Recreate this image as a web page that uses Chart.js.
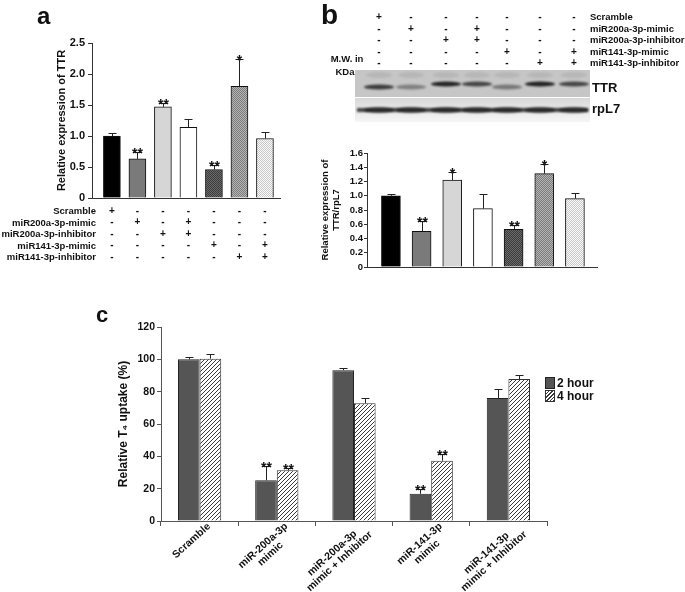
<!DOCTYPE html>
<html>
<head>
<meta charset="utf-8">
<script src="https://cdn.jsdelivr.net/npm/chart.js@4.4.1/dist/chart.umd.min.js"></script>
<style>
  body { margin: 0; width: 685px; height: 592px; position: relative; overflow: hidden; background: #fff;
         font-family: "Liberation Sans", Arial, sans-serif; font-weight: bold; color: #111; }
  canvas { position: absolute; }
  .abs { position: absolute; white-space: nowrap; }
</style>
</head>
<body>
<canvas id="chartA" width="300" height="275" style="left:0px;top:0px"></canvas>
<canvas id="blot" width="235" height="52" style="left:355px;top:70px"></canvas>
<canvas id="chartB" width="300" height="140" style="left:310px;top:135px"></canvas>
<canvas id="chartC" width="500" height="292" style="left:60px;top:300px"></canvas>
<div id="texts"></div>
<script>
// treatments (rows of the +/- tables), one entry per bar
var treatments = ['Scramble', 'miR200a-3p-mimic', 'miR200a-3p-inhibitor', 'miR141-3p-mimic', 'miR141-3p-inhibitor']
var scramble = ['+', '-', '-', '-', '-', '-', '-']
var mimic200 = ['-', '+', '-', '+', '-', '-', '-']
var inhib200 = ['-', '-', '+', '+', '-', '-', '-']
var mimic141 = ['-', '-', '-', '-', '+', '-', '+']
var inhib141 = ['-', '-', '-', '-', '-', '+', '+']

// panel a : qPCR, relative expression of TTR
var ttrA = [1.00, 0.63, 1.47, 1.14, 0.46, 1.80, 0.96]
var errA = [0.05, 0.11, 0.07, 0.14, 0.08, 0.44, 0.11]
var sigA = ['', '**', '**', '', '**', '*', '']
var ticksA = [0, 0.5, 1.0, 1.5, 2.0, 2.5]

// panel b : western blot, TTR/rpL7
var ttrB = [1.00, 0.50, 1.22, 0.82, 0.53, 1.31, 0.96]
var errB = [0.03, 0.14, 0.12, 0.20, 0.06, 0.13, 0.075]
var sigB = ['', '**', '*', '', '**', '*', '']
var ticksB = [0, 0.2, 0.4, 0.6, 0.8, 1.0, 1.2, 1.4, 1.6]

// panel c : T4 uptake
var groupsC = [['Scramble'], ['miR-200a-3p', 'mimic'], ['miR-200a-3p', 'mimic + Inhibitor'], ['miR-141-3p', 'mimic'], ['miR-141-3p', 'mimic + Inhibitor']]
var uptake2h = [100, 25.2, 93.3, 16.8, 76.1]
var err2h = [1.5, 9.1, 1.3, 3.3, 5.5]
var uptake4h = [100.4, 31.4, 72.8, 37.3, 87.8]
var err4h = [2.8, 1.4, 3.3, 4.3, 2.5]
var sig2h = ['', '**', '', '**', '']
var sig4h = ['', '**', '', '**', '']
var ticksC = [0, 20, 40, 60, 80, 100, 120]

var FONT = '"Liberation Sans", Arial, sans-serif'
Chart.defaults.font.family = FONT
Chart.defaults.font.weight = 'bold'
Chart.defaults.color = '#111'

function signColumn(i) {
  return [scramble[i], mimic200[i], inhib200[i], mimic141[i], inhib141[i]]
}

// small fill patterns for the hatched bars
function checker(ctx, c1, c2, size) {
  var cv = document.createElement('canvas')
  cv.width = cv.height = size * 2
  var g = cv.getContext('2d')
  g.fillStyle = c1
  g.fillRect(0, 0, size * 2, size * 2)
  g.fillStyle = c2
  g.fillRect(0, 0, size, size)
  g.fillRect(size, size, size, size)
  return ctx.createPattern(cv, 'repeat')
}
function hatch(ctx) {
  var cv = document.createElement('canvas')
  cv.width = cv.height = 4
  var g = cv.getContext('2d')
  g.fillStyle = '#fff'
  g.fillRect(0, 0, 4, 4)
  g.strokeStyle = '#3a3a3a'
  g.lineWidth = 1
  g.beginPath()
  g.moveTo(-1, 5); g.lineTo(5, -1)
  g.moveTo(-1, 1); g.lineTo(1, -1)
  g.moveTo(3, 5); g.lineTo(5, 3)
  g.stroke()
  return ctx.createPattern(cv, 'repeat')
}
function fills(ctx) {
  return ['#000', '#7a7a7a', '#d6d6d6', '#fff',
    checker(ctx, '#6a6a6a', '#3c3c3c', 1),
    checker(ctx, '#b4b4b4', '#7c7c7c', 1),
    checker(ctx, '#fafafa', '#c8c8c8', 1)]
}

// error bars (upper half) and asterisks
var errorBars = {
  id: 'errorBars',
  afterDatasetsDraw: function (chart, args, opts) {
    var ctx = chart.ctx
    var y = chart.scales.y
    chart.data.datasets.forEach(function (ds, di) {
      chart.getDatasetMeta(di).data.forEach(function (bar, i) {
        var v = ds.data[i]
        var value = typeof v === 'object' ? v.y : v
        var top = Math.round(y.getPixelForValue(value + ds.errors[i])) + 0.5
        var x = Math.round(bar.x) + 0.5
        ctx.save()
        ctx.strokeStyle = '#222'
        ctx.lineWidth = 1
        ctx.beginPath()
        ctx.moveTo(x, bar.y)
        ctx.lineTo(x, top)
        ctx.moveTo(x - opts.cap, top)
        ctx.lineTo(x + opts.cap, top)
        ctx.stroke()
        if (ds.stars[i]) {
          ctx.font = opts.font
          ctx.fillStyle = '#111'
          ctx.textAlign = 'center'
          ctx.textBaseline = 'alphabetic'
          ctx.fillText(ds.stars[i], x, top + opts.starShift)
        }
        ctx.restore()
      })
    })
  }
}

// slanted, centred multi-line category labels for panel c
var slantLabels = {
  id: 'slantLabels',
  afterDraw: function (chart, args, opts) {
    var ctx = chart.ctx
    var x = chart.scales.x
    ctx.save()
    ctx.font = opts.font
    ctx.fillStyle = '#111'
    ctx.textAlign = 'center'
    ctx.textBaseline = 'top'
    opts.labels.forEach(function (lines, i) {
      var w = Math.max.apply(null, lines.map(function (l) { return ctx.measureText(l).width }))
      ctx.save()
      ctx.translate(x.getPixelForValue(i) + opts.dx, x.top + opts.dy)
      ctx.rotate(-opts.angle * Math.PI / 180)
      lines.forEach(function (l, j) { ctx.fillText(l, -w / 2, j * opts.lineHeight) })
      ctx.restore()
    })
    ctx.restore()
  }
}

function tickFmt(v) { return v === 0 ? '0' : v.toFixed(1) }

// ---- panel a
var ctxA = document.getElementById('chartA').getContext('2d')
new Chart(ctxA, {
  type: 'bar',
  data: {
    datasets: [{
      data: ttrA.map(function (v, i) { return { x: i, y: v } }),
      errors: errA,
      stars: sigA,
      backgroundColor: fills(ctxA),
      borderColor: '#111',
      borderWidth: 1,
      barThickness: 17
    }]
  },
  options: {
    responsive: false,
    animation: false,
    devicePixelRatio: 1,
    layout: { padding: { left: 50, top: 43, right: 20, bottom: 0 } },
    plugins: {
      legend: { display: false },
      tooltip: { enabled: false },
      errorBars: { cap: 4, font: 'bold 14px ' + FONT, starShift: 5.5 }
    },
    scales: {
      x: {
        type: 'linear', min: -0.78, max: 6.59, offset: false,
        grid: { display: false, drawTicks: false },
        border: { color: '#333' },
        afterBuildTicks: function (s) { s.ticks = scramble.map(function (_, i) { return { value: i } }) },
        afterFit: function (s) { s.height = 77 },
        ticks: { autoSkip: false, maxRotation: 0, padding: 7, font: { size: 10, lineHeight: 1.15 }, callback: function (v) { return signColumn(v) } }
      },
      y: {
        min: 0, max: 2.5,
        afterBuildTicks: function (s) { s.ticks = ticksA.map(function (v) { return { value: v } }) },
        afterFit: function (s) { s.width = 42 },
        ticks: { autoSkip: false, padding: 3, font: { size: 11 }, callback: tickFmt },
        grid: { drawOnChartArea: false, tickLength: 4, color: '#333' },
        border: { color: '#333' },
        title: { display: true, text: 'Relative expression of TTR', font: { size: 11 }, padding: { top: 5, bottom: 0 } }
      }
    }
  },
  plugins: [errorBars]
})

// ---- panel b chart
var ctxB = document.getElementById('chartB').getContext('2d')
new Chart(ctxB, {
  type: 'bar',
  data: {
    datasets: [{
      data: ttrB.map(function (v, i) { return { x: i, y: v } }),
      errors: errB,
      stars: sigB,
      backgroundColor: fills(ctxB),
      borderColor: '#111',
      borderWidth: 1,
      barThickness: 19
    }]
  },
  options: {
    responsive: false,
    animation: false,
    devicePixelRatio: 1,
    layout: { padding: { left: 4, top: 18, right: 13, bottom: 0 } },
    plugins: {
      legend: { display: false },
      tooltip: { enabled: false },
      errorBars: { cap: 4, font: 'bold 14px ' + FONT, starShift: 5.5 }
    },
    scales: {
      x: {
        type: 'linear', min: -0.78, max: 6.72, offset: false,
        grid: { display: false, drawTicks: false },
        border: { color: '#333' },
        ticks: { display: false },
        afterFit: function (s) { s.height = 8 }
      },
      y: {
        min: 0, max: 1.6,
        afterBuildTicks: function (s) { s.ticks = ticksB.map(function (v) { return { value: v } }) },
        afterFit: function (s) { s.width = 53 },
        ticks: { autoSkip: false, padding: 1, font: { size: 9.5 }, callback: tickFmt },
        grid: { drawOnChartArea: false, tickLength: 3, color: '#333' },
        border: { color: '#333' },
        title: { display: true, text: ['Relative expression of', 'TTR/rpL7'], font: { size: 9.5, lineHeight: '11px' }, padding: { top: 5.5, bottom: 0 } }
      }
    }
  },
  plugins: [errorBars]
})

// ---- panel c
var ctxC = document.getElementById('chartC').getContext('2d')
new Chart(ctxC, {
  type: 'bar',
  data: {
    labels: groupsC.map(function (g) { return g.join(' ') }),
    datasets: [
      { label: '2 hour', data: uptake2h, errors: err2h, stars: sig2h, backgroundColor: '#555', borderColor: '#222', borderWidth: 1 },
      { label: '4 hour', data: uptake4h, errors: err4h, stars: sig4h, backgroundColor: hatch(ctxC), borderColor: '#333', borderWidth: 1 }
    ]
  },
  options: {
    responsive: false,
    animation: false,
    devicePixelRatio: 1,
    categoryPercentage: 0.56,
    barPercentage: 1,
    layout: { padding: { left: 50, top: 27, right: 13, bottom: 0 } },
    plugins: {
      legend: { display: false },
      tooltip: { enabled: false },
      errorBars: { cap: 4, font: 'bold 14px ' + FONT, starShift: 5.5 },
      slantLabels: { labels: groupsC, font: 'bold 10.5px ' + FONT, angle: 42, dx: 6, dy: 0, lineHeight: 11 }
    },
    scales: {
      x: {
        grid: { display: true, drawOnChartArea: false, offset: true, tickLength: 5, color: '#555' },
        border: { color: '#555' },
        ticks: { display: false },
        afterFit: function (s) { s.height = 71 }
      },
      y: {
        min: 0, max: 120,
        afterBuildTicks: function (s) { s.ticks = ticksC.map(function (v) { return { value: v } }) },
        afterFit: function (s) { s.width = 51 },
        ticks: { autoSkip: false, padding: 2, font: { size: 10.5 } },
        grid: { drawOnChartArea: false, tickLength: 4, color: '#555' },
        border: { color: '#555' },
        title: { display: true, text: 'Relative T\u2084 uptake (%)', font: { size: 12 }, padding: { top: 6, bottom: 0 } }
      }
    }
  },
  plugins: [errorBars, slantLabels]
})

// ---- blot picture of panel b (lanes follow the sign columns)
var laneX = [379, 411, 446, 477, 507, 540, 574]
var ttrBand = [0.8, 0.4, 0.95, 0.75, 0.45, 0.95, 0.75]
var g = document.getElementById('blot').getContext('2d')
g.fillStyle = '#c6c6c6'
g.fillRect(0, 0, 235, 27)
var grad = g.createLinearGradient(0, 28, 0, 52)
grad.addColorStop(0, '#d8d8d8')
grad.addColorStop(1, '#f6f6f6')
g.fillStyle = grad
g.fillRect(0, 28, 235, 24)
g.filter = 'blur(1.2px)'
g.fillStyle = 'rgba(40,40,40,0.85)'
g.fillRect(2, 38, 231, 4)
laneX.forEach(function (lx, i) {
  var x = lx - 355
  var y = ttrBand[i] > 0.7 && i > 1 ? 14 : 17
  g.fillStyle = 'rgba(70,70,70,0.12)'
  g.beginPath(); g.ellipse(x, 5, 13, 3, 0, 0, Math.PI * 2); g.fill()
  g.fillStyle = 'rgba(25,25,25,' + ttrBand[i] + ')'
  g.beginPath(); g.ellipse(x, y, 15, 2.6, 0, 0, Math.PI * 2); g.fill()
  g.fillStyle = 'rgba(20,20,20,0.6)'
  g.beginPath(); g.ellipse(x, 40, 15, 3, 0, 0, Math.PI * 2); g.fill()
})

// ---- html texts
var texts = document.getElementById('texts')
function addText(str, left, top, css) {
  var d = document.createElement('div')
  d.className = 'abs'
  d.textContent = str
  d.style.cssText = 'left:' + left + 'px;top:' + top + 'px;' + (css || '')
  texts.appendChild(d)
  return d
}

addText('a', 37, 4, 'font-size:24px;line-height:24px')
addText('b', 321, 1, 'font-size:28px;line-height:28px')
addText('c', 96, 304, 'font-size:22px;line-height:22px')

// row names of the panel a table
treatments.forEach(function (t, r) {
  addText(t, 0, 205 + r * 11.5, 'width:96px;text-align:right;font-size:9.5px;line-height:12px')
})

// panel b sign table
var rows = [scramble, mimic200, inhib200, mimic141, inhib141]
rows.forEach(function (row, r) {
  var y = 11 + r * 11.5
  row.forEach(function (s, i) {
    addText(s, laneX[i] - 8, y, 'width:16px;text-align:center;font-size:10px;line-height:12px')
  })
  addText(treatments[r], 590, y, 'font-size:9.5px;line-height:12px')
})
addText('M.W. in', 324, 53, 'width:46px;text-align:center;font-size:9.5px;line-height:12px')
addText('KDa', 322, 66, 'width:46px;text-align:center;font-size:9.5px;line-height:12px')
addText('TTR', 592, 80, 'font-size:13px;line-height:16px')
addText('rpL7', 592, 101, 'font-size:13px;line-height:16px')

// panel c legend
addText('', 545, 377, 'width:8px;height:10px;background:#555;border:1px solid #222')
addText('', 545, 390, 'width:8px;height:10px;border:1px solid #333;background:repeating-linear-gradient(135deg,#fff 0 1.6px,#3a3a3a 1.6px 2.6px)')
addText('2 hour', 557, 375, 'font-size:12px;line-height:16px')
addText('4 hour', 557, 388, 'font-size:12px;line-height:16px')
</script>
</body>
</html>
